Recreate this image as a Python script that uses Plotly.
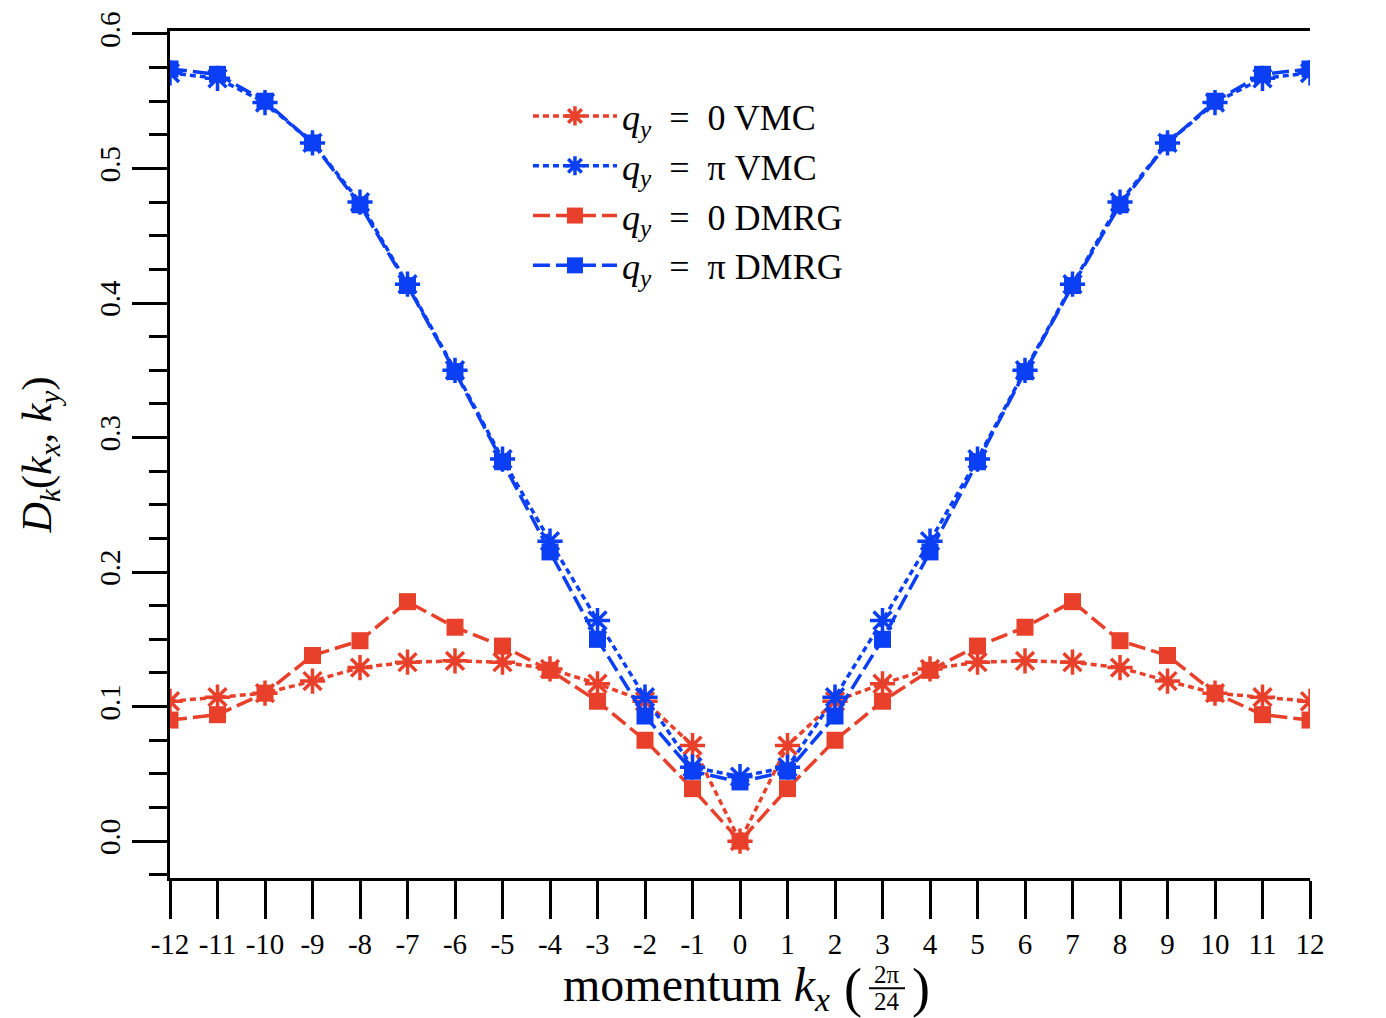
import plotly.graph_objects as go

# momentum index k_x in units of 2*pi/24
kx = list(range(-12, 13))
kx_labels = ["-12", "-11", "-10", "-9", "-8", "-7", "-6", "-5", "-4", "-3", "-2", "-1", "0",
             "1", "2", "3", "4", "5", "6", "7", "8", "9", "10", "11", "12"]

# structure factor D_k(k_x, k_y) for the two q_y sectors, VMC and DMRG
vmc_q0 = [0.104, 0.107, 0.110, 0.119, 0.129, 0.133, 0.134, 0.133, 0.128, 0.117, 0.104, 0.071, 0.000,
          0.071, 0.104, 0.117, 0.128, 0.133, 0.134, 0.133, 0.129, 0.119, 0.110, 0.107, 0.104]
vmc_qpi = [0.571, 0.567, 0.549, 0.519, 0.475, 0.414, 0.350, 0.284, 0.223, 0.164, 0.107, 0.055, 0.048,
           0.055, 0.107, 0.164, 0.223, 0.284, 0.350, 0.414, 0.475, 0.519, 0.549, 0.567, 0.571]
dmrg_q0 = [0.090, 0.094, 0.110, 0.138, 0.149, 0.178, 0.159, 0.145, 0.127, 0.104, 0.075, 0.039, 0.000,
           0.039, 0.075, 0.104, 0.127, 0.145, 0.159, 0.178, 0.149, 0.138, 0.110, 0.094, 0.090]
dmrg_qpi = [0.574, 0.570, 0.550, 0.519, 0.473, 0.413, 0.349, 0.282, 0.215, 0.150, 0.093, 0.052, 0.044,
            0.052, 0.093, 0.150, 0.215, 0.282, 0.349, 0.413, 0.473, 0.519, 0.550, 0.570, 0.574]

EQ = "\u00a0\u00a0=\u00a0\u00a0"
series_names = [
    "<i>q</i><sub><i>y</i></sub>" + EQ + "0 VMC",
    "<i>q</i><sub><i>y</i></sub>" + EQ + "π VMC",
    "<i>q</i><sub><i>y</i></sub>" + EQ + "0 DMRG",
    "<i>q</i><sub><i>y</i></sub>" + EQ + "π DMRG",
]

RED = "#E8402A"
BLUE = "#0A3FF5"
SERIF = "Liberation Serif"

W, H = 1386, 1018
L, R, T, B = 170, 76, 25, 140
PW, PH = W - L - R, H - T - B
Y_RANGE = [-0.0274, 0.6022]

fig = go.Figure()

styles = [
    (vmc_q0, RED, "6px,4px", "asterisk-open"),
    (vmc_qpi, BLUE, "6px,4px", "asterisk-open"),
    (dmrg_q0, RED, "17px,6px", "square"),
    (dmrg_qpi, BLUE, "17px,6px", "square"),
]
for (vals, col, dash, sym), name in zip(styles, series_names):
    is_star = sym.startswith("asterisk")
    fig.add_trace(go.Scatter(
        x=kx, y=vals, name=name, mode="lines+markers",
        line=dict(color=col, width=3.5, dash=dash),
        marker=dict(symbol=sym, size=21 if is_star else 17, color=col,
                    line=dict(color=col, width=3.5 if is_star else 0)),
    ))

tick_font = dict(family=SERIF, size=29, color="black")

fig.update_layout(
    width=W, height=H,
    margin=dict(l=L, r=R, t=T, b=B),
    paper_bgcolor="white", plot_bgcolor="white",
    showlegend=True,
    legend=dict(
        x=0.314, y=0.935, xanchor="left", yanchor="top",
        bgcolor="rgba(0,0,0,0)", borderwidth=0,
        font=dict(family=SERIF, size=36, color="black"),
        itemwidth=84, tracegroupgap=0,
    ),
    xaxis=dict(
        range=[-12, 12], tickmode="array", tickvals=kx, ticktext=kx_labels,
        showline=True, linecolor="black", linewidth=3, mirror=True,
        ticks="outside", ticklen=38, tickwidth=3, tickcolor="black",
        showgrid=False, zeroline=False, tickfont=tick_font,
    ),
    yaxis=dict(
        range=Y_RANGE, tickmode="linear", tick0=0, dtick=0.1, tickformat=".1f",
        showline=True, linecolor="black", linewidth=3,
        ticks="outside", ticklen=35, tickwidth=3, tickcolor="black",
        minor=dict(dtick=0.025, tick0=0, ticks="outside", ticklen=18, tickwidth=3, tickcolor="black"),
        showgrid=False, zeroline=False, tickangle=-90, tickfont=tick_font,
        title=dict(text="<i>D</i><sub><i>k</i></sub>(<i>k</i><sub><i>x</i></sub>, <i>k</i><sub><i>y</i></sub>)",
                   font=dict(family=SERIF, size=42, color="black"), standoff=30),
    ),
    yaxis2=dict(
        range=Y_RANGE, overlaying="y", side="right", anchor="x",
        tickmode="linear", tick0=0, dtick=0.1, tickformat=".1f",
        showline=True, linecolor="black", linewidth=3,
        ticks="outside", ticklen=35, tickwidth=3, tickcolor="black",
        minor=dict(dtick=0.025, tick0=0, ticks="outside", ticklen=18, tickwidth=3, tickcolor="black"),
        showgrid=False, zeroline=False, tickangle=-90, tickfont=tick_font,
    ),
)


def px_x(p):
    return (p - L) / PW


def px_y(p):
    return (H - B - p) / PH


# x-axis title with a stacked 2π/24 unit fraction
title_font = dict(family=SERIF, size=48, color="black")
frac_font = dict(family=SERIF, size=25, color="black")
paren_font = dict(family=SERIF, size=54, color="black")
annots = [
    dict(text="momentum <i>k</i><sub><i>x</i></sub>", x=px_x(832), y=px_y(989),
         xanchor="right", yanchor="middle", font=title_font),
    dict(text="(", x=px_x(864), y=px_y(989), xanchor="right", yanchor="middle", font=paren_font),
    dict(text="2π", x=px_x(887), y=px_y(975), xanchor="center", yanchor="middle", font=frac_font),
    dict(text="24", x=px_x(887), y=px_y(1002), xanchor="center", yanchor="middle", font=frac_font),
    dict(text=")", x=px_x(910), y=px_y(989), xanchor="left", yanchor="middle", font=paren_font),
]
for a in annots:
    fig.add_annotation(xref="paper", yref="paper", showarrow=False, **a)

fig.add_shape(type="line", xref="paper", yref="paper",
              x0=px_x(869), x1=px_x(905), y0=px_y(989), y1=px_y(989),
              line=dict(color="black", width=2))

fig.write_html("out.html")
